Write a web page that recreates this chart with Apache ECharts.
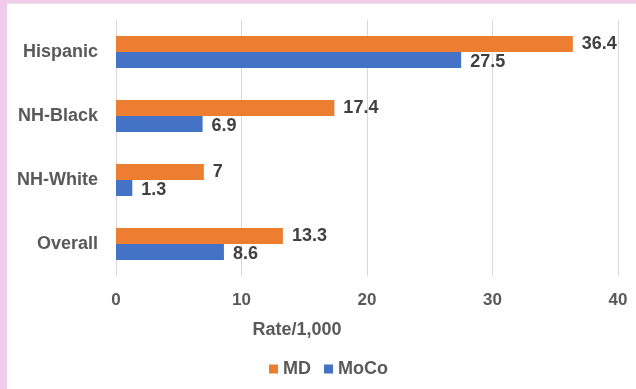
<!DOCTYPE html>
<html>
<head>
<meta charset="utf-8">
<script src="https://cdn.jsdelivr.net/npm/echarts@6/dist/echarts.min.js"></script>
<style>
  html, body { margin: 0; padding: 0; background: #ffffff; }
  #wrap { position: relative; width: 636px; height: 389px; overflow: hidden; }
  #chart { position: absolute; left: 0; top: 0; width: 636px; height: 389px; }
  .edgeTop { position: absolute; left: 0; top: 0; width: 636px; height: 3px; background: #efcdea; border-bottom: 1px solid #e4e4e4; }
  .edgeLeft { position: absolute; left: 0; top: 0; width: 7px; height: 389px; background: #efcdea; }
</style>
</head>
<body>
<div id="wrap">
  <div id="chart"></div>
  <div class="edgeTop"></div>
  <div class="edgeLeft"></div>
</div>
<script>
// Rates per 1,000 by group, Maryland vs. Montgomery County
const categories = ['Overall', 'NH-White', 'NH-Black', 'Hispanic'];
const mdValues = [13.3, 7, 17.4, 36.4];
const mocoValues = [8.6, 1.3, 6.9, 27.5];
const seriesNames = ['MD', 'MoCo'];
const axisTitle = 'Rate/1,000';

const font = 'Liberation Sans, Arial, sans-serif';
const chart = echarts.init(document.getElementById('chart'), null, { renderer: 'canvas' });

const valueLabel = {
  show: true,
  position: 'right',
  distance: 9,
  color: '#404040',
  fontFamily: font,
  fontWeight: 'bold',
  fontSize: 18
};

chart.setOption({
  animation: false,
  backgroundColor: '#ffffff',
  grid: { left: 116, right: 18, top: 20, bottom: 113, containLabel: false },
  legend: {
    data: seriesNames,
    bottom: 6,
    left: 264,
    icon: 'rect',
    itemWidth: 9,
    itemHeight: 9,
    itemGap: 13,
    textStyle: { color: '#595959', fontFamily: font, fontWeight: 'bold', fontSize: 18 }
  },
  xAxis: {
    type: 'value',
    min: 0,
    max: 40,
    interval: 10,
    name: axisTitle,
    nameLocation: 'middle',
    nameGap: 45,
    nameTextStyle: { color: '#595959', fontFamily: font, fontWeight: 'bold', fontSize: 18, padding: [0, 140, 0, 0] },
    axisLine: { show: false },
    axisTick: { show: false },
    axisLabel: { color: '#595959', fontFamily: font, fontWeight: 'bold', fontSize: 17, margin: 16 },
    splitLine: { show: true, lineStyle: { color: '#d9d9d9', width: 1 } }
  },
  yAxis: {
    type: 'category',
    data: categories,
    axisLine: { show: true, lineStyle: { color: '#d9d9d9', width: 1 } },
    axisTick: { show: false },
    axisLabel: { color: '#595959', fontFamily: font, fontWeight: 'bold', fontSize: 18, margin: 18 }
  },
  series: [
    {
      name: seriesNames[0],
      type: 'bar',
      data: mdValues,
      itemStyle: { color: '#ed7d31' },
      barWidth: 16,
      barGap: '0%',
      barCategoryGap: '50%',
      label: valueLabel
    },
    {
      name: seriesNames[1],
      type: 'bar',
      data: mocoValues,
      itemStyle: { color: '#4472c4' },
      barWidth: 16,
      barGap: '0%',
      barCategoryGap: '50%',
      label: Object.assign({}, valueLabel, { offset: [0, 2] })
    }
  ]
});
</script>
</body>
</html>
